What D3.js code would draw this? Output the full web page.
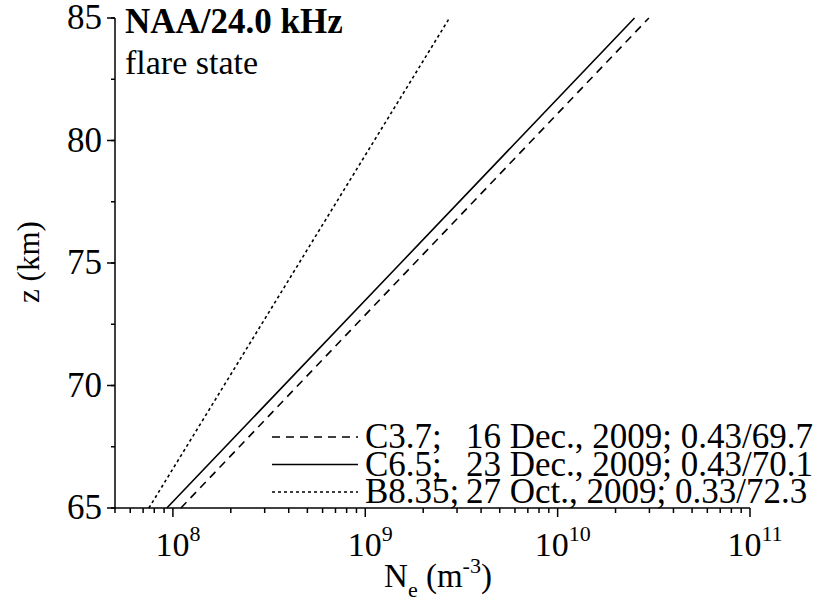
<!DOCTYPE html>
<html>
<head>
<meta charset="utf-8">
<script src="https://cdn.jsdelivr.net/npm/d3@7"></script>
<style>
  body { margin: 0; background: #fff; }
  text { font-family: "Liberation Serif", "Times New Roman", serif; fill: #000; }
</style>
</head>
<body>
<script>
// heights (km) where the profiles were read
const zKm = [65, 75, 85];
// electron density (m^-3) read at those heights
const neC37  = [1.10e8, 1.81e9, 2.98e10];
const neC65  = [9.3e7, 1.53e9, 2.51e10];
const neB835 = [7.5e7, 4.53e8, 2.74e9];

const flareNames   = ["C3.7;", "C6.5;", "B8.35;"];
const flareDetails = ["16 Dec., 2009; 0.43/69.7", "23 Dec., 2009; 0.43/70.1", "27 Oct., 2009; 0.33/72.3"];
const dashes       = ["8,6", null, "3,3"];

const yTicks = [65, 70, 75, 80, 85];
const xTicks = [1e8, 1e9, 1e10, 1e11];
const xExp   = ["8", "9", "10", "11"];

const W = 822, H = 607;
const x0 = 115, x1 = 750, yTop = 18, yBot = 508;

const svg = d3.select("body").append("svg").attr("width", W).attr("height", H)
  .attr("font-family", "Liberation Serif");

const x = d3.scaleLog().domain([5e7, 1e11]).range([x0, x1]);
const y = d3.scaleLinear().domain([65, 85]).range([yBot, yTop]);

const series = [neC37, neC65, neB835].map((ne, i) => ({
  name: flareNames[i], detail: flareDetails[i], dash: dashes[i],
  pts: zKm.map((z, j) => [ne[j], z])
}));

const line = d3.line().x(d => x(d[0])).y(d => y(d[1]));

svg.append("g").selectAll("path").data(series).join("path")
   .attr("d", d => line(d.pts))
   .attr("fill", "none").attr("stroke", "#000").attr("stroke-width", 1.6)
   .attr("stroke-dasharray", d => d.dash);

// y axis
const yMinor = d3.range(65, 85.01, 2.5);
const yg = svg.append("g").attr("transform", `translate(${x0},0)`);
yg.append("line").attr("y1", yTop).attr("y2", yBot).attr("stroke", "#000").attr("stroke-width", 1.5);
yg.selectAll(".mn").data(yMinor).join("line")
  .attr("x1", -4).attr("x2", 0).attr("y1", d => y(d)).attr("y2", d => y(d))
  .attr("stroke", "#000").attr("stroke-width", 1.5);
yg.selectAll(".mj").data(yTicks).join("line")
  .attr("x1", -8).attr("x2", 0).attr("y1", d => y(d)).attr("y2", d => y(d))
  .attr("stroke", "#000").attr("stroke-width", 1.5);
yg.selectAll("text").data(yTicks).join("text")
  .attr("x", -13).attr("y", d => y(d) + 11)
  .attr("text-anchor", "end").style("font-size", "35px")
  .text(d => d);

// x axis
const xMinor = [];
for (let e = 7; e <= 10; e++) for (let m = 2; m <= 9; m++) {
  const v = m * Math.pow(10, e);
  if (v >= 5e7 && v <= 1e11) xMinor.push(v);
}
const xg = svg.append("g").attr("transform", `translate(0,${yBot})`);
xg.append("line").attr("x1", x0).attr("x2", x1).attr("stroke", "#000").attr("stroke-width", 1.5);
xg.selectAll(".mn").data(xMinor).join("line")
  .attr("x1", d => x(d)).attr("x2", d => x(d)).attr("y1", 0).attr("y2", 5)
  .attr("stroke", "#000").attr("stroke-width", 1.5);
xg.selectAll(".mj").data(xTicks).join("line")
  .attr("x1", d => x(d)).attr("x2", d => x(d)).attr("y1", 0).attr("y2", 9)
  .attr("stroke", "#000").attr("stroke-width", 1.5);
const xl = xg.selectAll("text").data(xTicks).join("text")
  .attr("x", d => x(d) + 5).attr("y", 48)
  .attr("text-anchor", "middle").style("font-size", "34px");
xl.append("tspan").text("10");
xl.append("tspan").attr("dy", -15).style("font-size", "22px").text((d, i) => xExp[i]);

// axis titles
const xt = svg.append("text").attr("x", 438).attr("y", 587)
  .attr("text-anchor", "middle").style("font-size", "33px");
xt.append("tspan").text("N");
xt.append("tspan").attr("dy", 10).style("font-size", "22px").text("e");
xt.append("tspan").attr("dy", -10).text(" (m");
xt.append("tspan").attr("dy", -14).style("font-size", "22px").text("-3");
xt.append("tspan").attr("dy", 14).text(")");

svg.append("text").attr("transform", "translate(39,262) rotate(-90)")
  .attr("text-anchor", "middle").style("font-size", "31px").text("z (km)");

// annotation
svg.append("text").attr("x", 125).attr("y", 33).style("font-size", "35px")
  .style("font-weight", "bold").text("NAA/24.0 kHz");
svg.append("text").attr("x", 125).attr("y", 74).style("font-size", "34px").text("flare state");

// legend
const lg = svg.append("g").selectAll("g").data(series).join("g")
  .attr("transform", (d, i) => `translate(0,${437 + i * 27.5})`);
lg.append("line").attr("x1", 272).attr("x2", 358).attr("y1", 0).attr("y2", 0)
  .attr("stroke", "#000").attr("stroke-width", 1.6).attr("stroke-dasharray", d => d.dash);
lg.append("text").attr("x", 365).attr("y", 11).style("font-size", "35px").text(d => d.name);
lg.append("text").attr("x", 466).attr("y", 11).style("font-size", "35px").text(d => d.detail);
</script>
</body>
</html>
